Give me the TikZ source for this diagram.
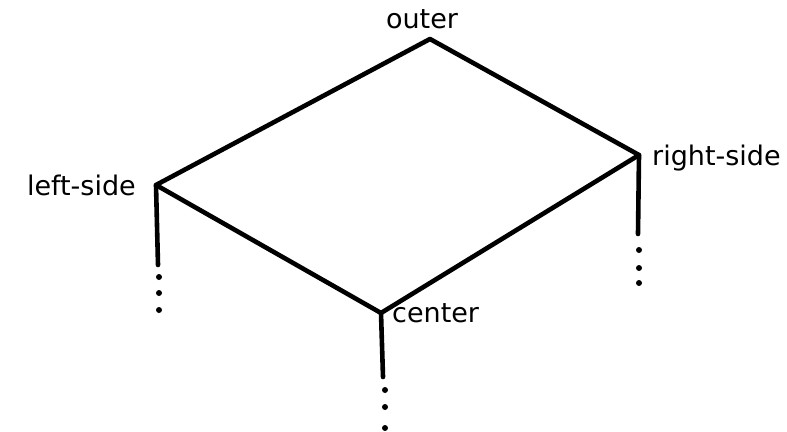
\documentclass[tikz,border=0pt]{standalone}
\usepackage{fontspec}
\setmainfont{DejaVu Sans}
\usepackage{tikz}
\usetikzlibrary{positioning}

\begin{document}
\begin{tikzpicture}[x=1pt, y=-1pt, every node/.style={font=\fontsize{27}{31}\selectfont, inner sep=0pt}, edge/.style={line width=4.6pt, line join=round, line cap=round}, dot/.style={circle, fill, inner sep=0pt, minimum size=6pt}]
\useasboundingbox (0,0) rectangle (787,431);
% corners of the top face
\coordinate (outer) at (430,39);
\coordinate (right) at (639,155);
\coordinate (center) at (381,313);
\coordinate (left) at (156,185);
% labels
\node[anchor=base, xshift=-8pt, yshift=11pt] (outerlbl) at (outer) {outer};
\node[anchor=base west, xshift=13pt, yshift=-10pt] (rightlbl) at (right) {right-side};
\node[anchor=base east, xshift=-20pt, yshift=-10pt] (leftlbl) at (left) {left-side};
\node[anchor=base west, xshift=11pt, yshift=-9pt] (centerlbl) at (center) {center};
% legs going down
\coordinate (leftend) at (158,265);
\coordinate (rightend) at (638,234);
\coordinate (centerend) at (383,377);
\draw[edge] (outer) -- (right) -- (center) -- (left) -- cycle;
\draw[edge] (left) -- (leftend);
\draw[edge] (right) -- (rightend);
\draw[edge] (center) -- (centerend);
% dots
\foreach \y [count=\i] in {277,293,310} \node[dot] (ldot\i) at (159,\y) {};
\foreach \y [count=\i] in {250,268,283} \node[dot] (rdot\i) at (639,\y) {};
\foreach \y [count=\i] in {390,407,428} \node[dot] (cdot\i) at (385,\y) {};
\end{tikzpicture}
\end{document}
